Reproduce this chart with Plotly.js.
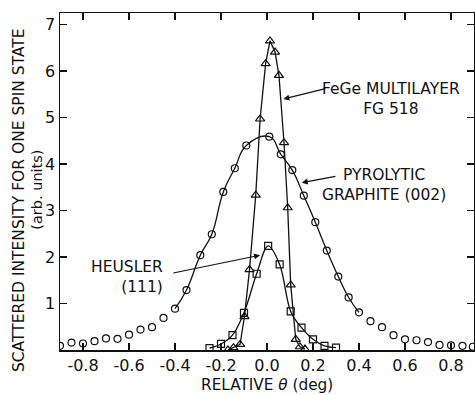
<!DOCTYPE html>
<html>
<head>
<meta charset="utf-8">
<script src="https://cdn.plot.ly/plotly-3.0.1.min.js"></script>
<style>html,body{margin:0;padding:0;background:#fff;}#chart{width:475px;height:395px;}</style>
</head>
<body>
<div id="chart"></div>
<script>
// Pyrolytic graphite (002) — open circles
const graphX = [-0.90,-0.85,-0.80,-0.75,-0.70,-0.65,-0.60,-0.55,-0.50,-0.45,-0.40,-0.35,-0.29,-0.24,-0.19,-0.14,-0.09,0.01,0.06,0.11,0.16,0.21,0.26,0.31,0.355,0.40,0.45,0.50,0.55,0.60,0.65,0.70,0.75,0.80,0.85,0.895];
const graphY = [0.09,0.16,0.14,0.19,0.25,0.24,0.33,0.44,0.49,0.69,0.89,1.29,2.04,2.49,3.40,3.91,4.40,4.59,4.21,3.87,3.32,2.75,2.14,1.58,1.13,0.81,0.62,0.49,0.32,0.23,0.21,0.17,0.11,0.10,0.09,0.07];
// FeGe multilayer FG 518 — open triangles
const fegeX = [-0.17,-0.146,-0.117,-0.098,-0.076,-0.049,-0.03,-0.006,0.013,0.035,0.052,0.074,0.09,0.103,0.125,0.143,0.165];
const fegeY = [0.00,0.05,0.12,0.72,1.73,3.33,4.97,6.16,6.65,6.41,5.91,4.46,3.06,1.40,0.23,0.07,0.02];
// Heusler (111) — open squares
const heuX = [-0.25,-0.20,-0.15,-0.10,-0.045,0.005,0.055,0.103,0.15,0.20,0.25,0.30];
const heuY = [0.04,0.13,0.32,0.80,1.64,2.24,1.84,0.83,0.48,0.23,0.09,0.05];
// tick labels
const xTickVals = [-0.8,-0.6,-0.4,-0.2,0,0.2,0.4,0.6,0.8];
const xTickText = ["-0.8","-0.6","-0.4","-0.2","0.0","0.2","0.4","0.6","0.8"];
const yTickVals = [1,2,3,4,5,6,7];
const yTickText = ["1","2","3","4","5","6","7"];

const fitStart = graphX.indexOf(-0.40), fitEnd = graphX.indexOf(0.40);
const F = "DejaVu Sans, Arial, sans-serif";
const ink = "#111";

const traces = [
  {x: graphX.slice(fitStart, fitEnd+1), y: graphY.slice(fitStart, fitEnd+1), mode: "lines",
   line: {color: ink, width: 1.3, shape: "spline", smoothing: 1.3}, hoverinfo: "skip"},
  {x: graphX, y: graphY, mode: "markers",
   marker: {symbol: "circle-open", size: 7, color: ink, line: {width: 1.2}}},
  {x: heuX, y: heuY, mode: "lines+markers",
   line: {color: ink, width: 1.3, shape: "spline", smoothing: 1.0},
   marker: {symbol: "square-open", size: 7, color: ink, line: {width: 1.2}}},
  {x: fegeX, y: fegeY, mode: "lines+markers",
   line: {color: ink, width: 1.3},
   marker: {symbol: "triangle-up-open", size: 8, color: ink, line: {width: 1.2}}}
];

const layout = {
  width: 475, height: 395,
  margin: {l: 60, r: 1, t: 13, b: 45},
  paper_bgcolor: "#fff", plot_bgcolor: "#fff",
  showlegend: false,
  font: {family: F, color: ink, size: 16},
  xaxis: {range: [-0.9, 0.9], tickvals: xTickVals, ticktext: xTickText,
    ticks: "inside", ticklen: 7, tickwidth: 1.3, tickcolor: ink,
    showline: true, linecolor: ink, linewidth: 1.5, mirror: "ticks",
    showgrid: false, zeroline: false, tickfont: {family: F, size: 16}},
  yaxis: {range: [0, 7.25], tickvals: yTickVals, ticktext: yTickText,
    ticks: "inside", ticklen: 7, tickwidth: 1.3, tickcolor: ink,
    showline: true, linecolor: ink, linewidth: 1.5, mirror: "ticks",
    showgrid: false, zeroline: false, tickfont: {family: F, size: 16}},
  annotations: [
    {xref: "paper", yref: "paper", x: -0.099, y: 0.445, textangle: -90, showarrow: false,
     xanchor: "center", yanchor: "middle", text: "SCATTERED INTENSITY FOR ONE SPIN STATE",
     font: {family: F, size: 15.5, color: ink}},
    {xref: "paper", yref: "paper", x: -0.056, y: 0.475, textangle: -90, showarrow: false,
     xanchor: "center", yanchor: "middle", text: "(arb. units)",
     font: {family: F, size: 14.5, color: ink}},
    {xref: "paper", yref: "paper", x: 0.5, y: -0.104, showarrow: false,
     xanchor: "center", yanchor: "middle", text: "RELATIVE <i>θ</i> (deg)",
     font: {family: F, size: 15.3, color: ink}},
    {x: 0.54, y: 5.40, showarrow: false, xanchor: "center", yanchor: "middle",
     text: "FeGe MULTILAYER<br>FG 518", font: {family: F, size: 15.5, color: ink}},
    {x: 0.51, y: 3.55, showarrow: false, xanchor: "center", yanchor: "middle",
     text: "PYROLYTIC<br>GRAPHITE (002)", font: {family: F, size: 15.5, color: ink}},
    {x: -0.443, y: 1.58, showarrow: false, xanchor: "right", yanchor: "middle", align: "right",
     text: "HEUSLER<br>(111)", font: {family: F, size: 15.5, color: ink}},
    {x: 0.071, y: 5.40, ax: 0.26, ay: 5.63, axref: "x", ayref: "y", text: "",
     showarrow: true, arrowhead: 2, arrowsize: 1, arrowwidth: 1.2, arrowcolor: ink},
    {x: 0.151, y: 3.60, ax: 0.304, ay: 3.74, axref: "x", ayref: "y", text: "",
     showarrow: true, arrowhead: 2, arrowsize: 1, arrowwidth: 1.2, arrowcolor: ink},
    {x: -0.03, y: 2.04, ax: -0.414, ay: 1.65, axref: "x", ayref: "y", text: "",
     showarrow: true, arrowhead: 2, arrowsize: 1, arrowwidth: 1.2, arrowcolor: ink}
  ]
};

Plotly.newPlot("chart", traces, layout, {staticPlot: true, displayModeBar: false});
</script>
</body>
</html>
